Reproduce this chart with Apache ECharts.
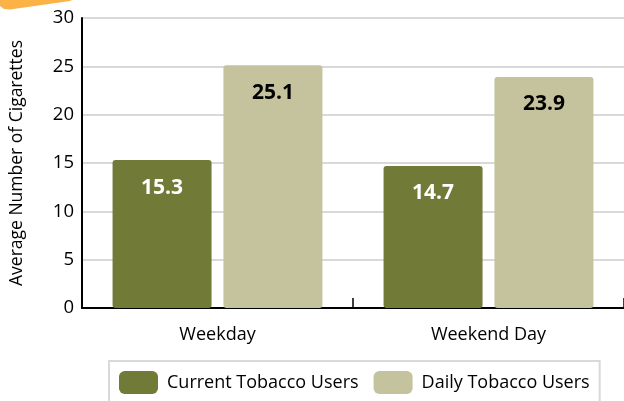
<!DOCTYPE html>
<html>
<head>
<meta charset="utf-8">
<script src="https://cdn.jsdelivr.net/npm/echarts@6/dist/echarts.min.js"></script>
<style>html,body{margin:0;padding:0;background:#fff;}#c{width:624px;height:401px;}</style>
</head>
<body>
<div id="c"></div>
<script>
const categories = ['Weekday', 'Weekend Day'];
const currentUsers = [15.3, 14.7];
const dailyUsers = [25.1, 23.9];
const seriesNames = ['Current Tobacco Users', 'Daily Tobacco Users'];
const yTicks = [0, 5, 10, 15, 20, 25, 30];

const FONT = 'Open Sans';
const chart = echarts.init(document.getElementById('c'), null, {renderer: 'canvas'});
chart.setOption({
  animation: false,
  textStyle: {fontFamily: FONT},
  graphic: [{
    type: 'polygon',
    shape: {points: [[0, 0], [72, 0], [70, 1], [10, 9.5], [4, 9], [0, 6]]},
    style: {fill: '#fbb347'}
  }],
  grid: {left: 75, top: 18, width: 554, height: 290, containLabel: false},
  legend: {
    left: 109, top: 361,
    padding: [10, 10, 30, 10],
    borderColor: '#d9d9d9', borderWidth: 2,
    itemWidth: 39, itemHeight: 23, itemGap: 15,
    itemStyle: {borderRadius: 4},
    textStyle: {fontFamily: FONT, fontSize: 18, color: '#000', padding: [0, 0, 0, 4]},
    data: seriesNames
  },
  xAxis: {
    type: 'category',
    data: categories,
    axisLine: {lineStyle: {color: '#000', width: 2}},
    axisTick: {show: true, inside: true, length: 10, lineStyle: {color: '#000', width: 1.5}},
    axisLabel: {fontFamily: FONT, fontSize: 18, color: '#000', margin: 18}
  },
  yAxis: {
    type: 'value', min: 0, max: 30, interval: 5,
    name: 'Average Number of Cigarettes',
    nameLocation: 'middle', nameRotate: 90, nameGap: 56,
    nameTextStyle: {fontFamily: FONT, fontSize: 17.5, color: '#000'},
    axisLine: {show: true, lineStyle: {color: '#000', width: 2}},
    axisTick: {show: false},
    axisLabel: {fontFamily: FONT, fontSize: 18.5, color: '#000', margin: 8,
      formatter: v => yTicks.includes(v) ? String(v) : ''},
    splitLine: {lineStyle: {color: '#d9d9d9', width: 2}}
  },
  series: [
    {
      name: seriesNames[0], type: 'bar', data: currentUsers,
      barWidth: 99, barGap: '12%',
      itemStyle: {color: '#717a37', borderRadius: 3},
      label: {show: true, position: 'insideTop', distance: 17, fontFamily: FONT,
        fontSize: 21, fontWeight: 'bold', color: '#fff'}
    },
    {
      name: seriesNames[1], type: 'bar', data: dailyUsers,
      barWidth: 99, barGap: '12%',
      itemStyle: {color: '#c5c39e', borderRadius: 3},
      label: {show: true, position: 'insideTop', distance: 17, fontFamily: FONT,
        fontSize: 21, fontWeight: 'bold', color: '#000'}
    }
  ]
});
</script>
</body>
</html>
